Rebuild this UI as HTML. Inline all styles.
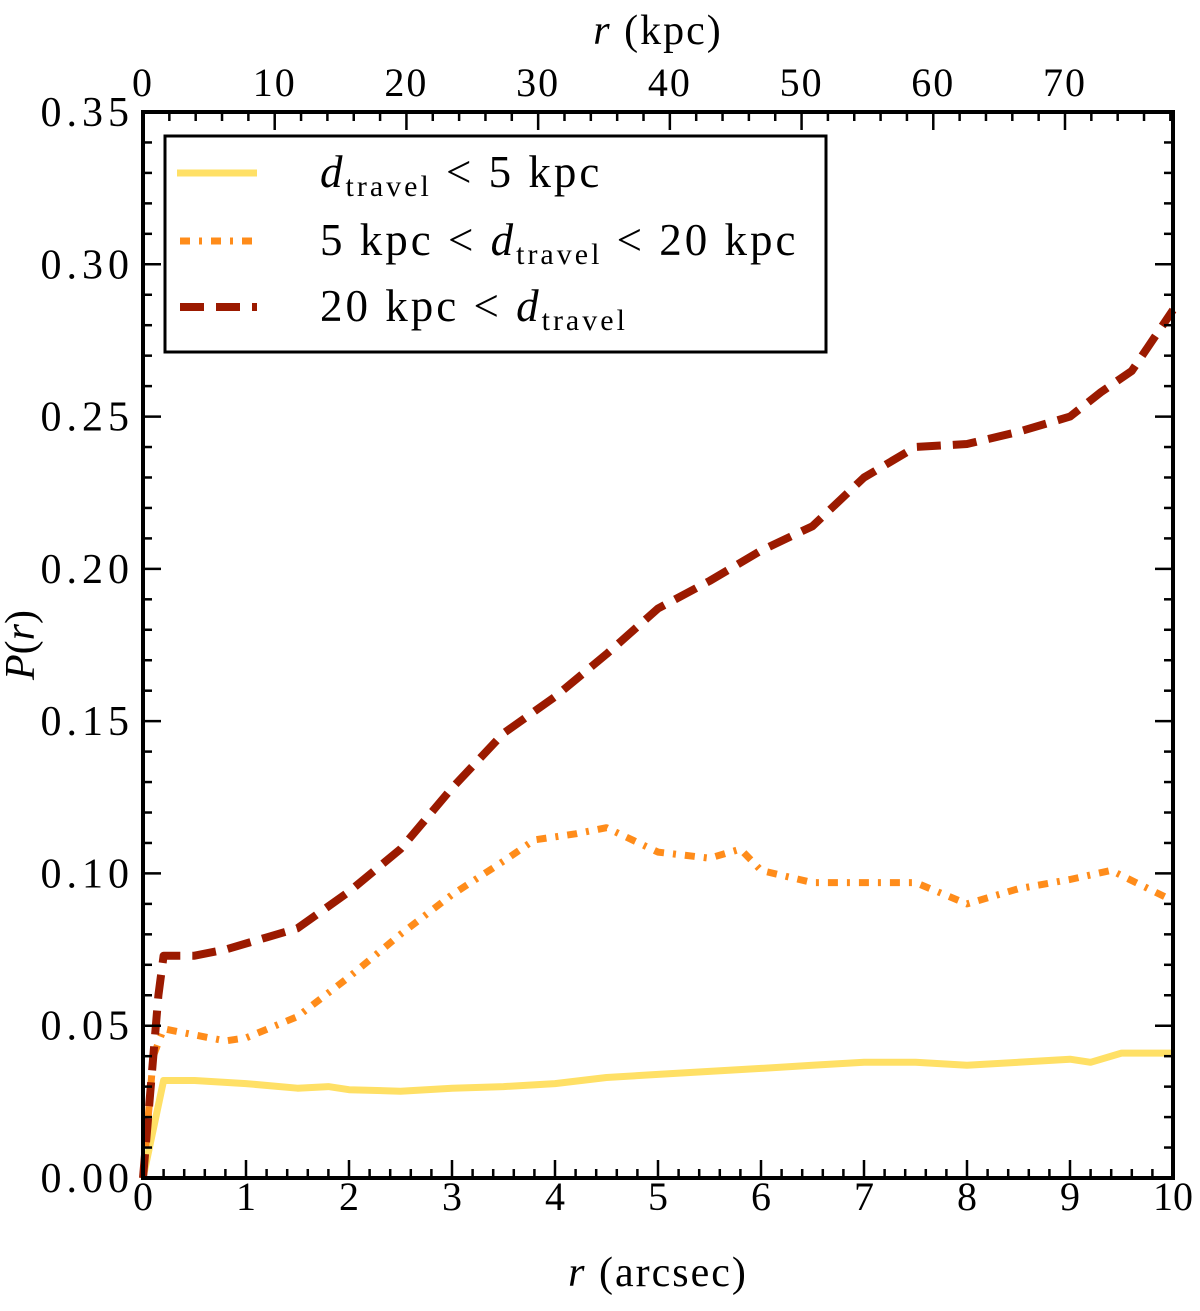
<!DOCTYPE html>
<html><head><meta charset="utf-8"><style>
body{margin:0;background:#fff;}
svg text{font-family:"Liberation Serif",serif;fill:#000;}
</style></head><body>
<svg id="chart" width="1200" height="1306" xmlns="http://www.w3.org/2000/svg">
<g id="marks"></g>
<g id="axes"></g>
<g>
<rect x="165" y="136" width="661" height="216" fill="#fff" stroke="#000" stroke-width="3"/>
<line x1="177" y1="173" x2="257" y2="173" stroke="#ffe066" stroke-width="7"/>
<text x="320" y="187" font-size="45" letter-spacing="3"><tspan font-style="italic">d</tspan><tspan font-size="30" dy="9">travel</tspan><tspan dy="-9"> &lt; 5 kpc</tspan></text>
<line x1="180" y1="241" x2="257" y2="241" stroke="#ff8c1a" stroke-width="7" stroke-dasharray="10 9 3 9"/>
<text x="320" y="255" font-size="45" letter-spacing="3">5 kpc &lt; <tspan font-style="italic">d</tspan><tspan font-size="30" dy="9">travel</tspan><tspan dy="-9"> &lt; 20 kpc</tspan></text>
<line x1="180" y1="307" x2="257" y2="307" stroke="#9b1a00" stroke-width="8" stroke-dasharray="24 12"/>
<text x="320" y="321" font-size="45" letter-spacing="3">20 kpc &lt; <tspan font-style="italic">d</tspan><tspan font-size="30" dy="9">travel</tspan></text>
</g>
<text x="658" y="1286" font-size="42" letter-spacing="2" text-anchor="middle"><tspan font-style="italic">r</tspan> (arcsec)</text>
<text x="658" y="44" font-size="42" letter-spacing="2" text-anchor="middle"><tspan font-style="italic">r</tspan> (kpc)</text>
<text transform="translate(34,645) rotate(-90)" font-size="42" text-anchor="middle"><tspan font-style="italic">P</tspan>(<tspan font-style="italic">r</tspan>)</text>
</svg>
<script>
const xTicks=[0,1,2,3,4,5,6,7,8,9,10];
const yTicks=[0,0.05,0.10,0.15,0.20,0.25,0.30,0.35];
const yTickLabels=["0.00","0.05","0.10","0.15","0.20","0.25","0.30","0.35"];
const kpcTicks=[0,10,20,30,40,50,60,70];
const kpcPerArcsec=7.82;
const shortX=[0,0.2,0.5,1,1.5,1.8,2,2.5,3,3.5,4,4.5,5,5.5,6,6.5,7,7.5,8,8.5,9,9.2,9.5,10];
const shortY=[0,0.032,0.032,0.031,0.0295,0.030,0.029,0.0285,0.0295,0.030,0.031,0.033,0.034,0.035,0.036,0.037,0.038,0.038,0.037,0.038,0.039,0.038,0.041,0.041];
const midX=[0,0.05,0.1,0.2,0.5,0.8,1,1.5,2,2.5,3,3.5,3.8,4.2,4.5,5,5.5,5.8,6,6.5,7,7.5,8,8.5,9,9.4,10];
const midY=[0,0.02,0.04,0.049,0.047,0.045,0.046,0.053,0.066,0.080,0.093,0.104,0.111,0.113,0.115,0.107,0.105,0.108,0.101,0.097,0.097,0.097,0.090,0.095,0.098,0.101,0.091];
const longX=[0,0.05,0.1,0.15,0.2,0.5,0.8,1.2,1.5,2,2.5,3,3.5,4,4.5,5,5.5,6,6.5,7,7.5,8,8.5,9,9.3,9.6,10];
const longY=[0,0.02,0.04,0.06,0.073,0.073,0.075,0.079,0.082,0.094,0.108,0.128,0.146,0.158,0.172,0.187,0.196,0.206,0.214,0.230,0.240,0.241,0.245,0.250,0.258,0.265,0.285];
const L=143,R=1173,T=112,B=1178;
const sx=v=>L+(R-L)*v/10, sy=v=>B-(B-T)*v/0.35;
const NS="http://www.w3.org/2000/svg";
const marks=document.getElementById('marks'), axes=document.getElementById('axes');
function mk(tag,attrs,parent){const e=document.createElementNS(NS,tag);for(const k in attrs)e.setAttribute(k,attrs[k]);parent.appendChild(e);return e;}
function series(xs,ys,color,w,dash,name){
  const d=xs.map((x,i)=>(i?'L':'M')+sx(x).toFixed(1)+','+sy(ys[i]).toFixed(1)).join('');
  const p=mk('path',{d:d,fill:'none',stroke:color,'stroke-width':w,'stroke-dasharray':dash,'stroke-linejoin':'round'},marks);
  
  
}
series(shortX,shortY,'#ffe066',7,'none','line-short-travel');
series(midX,midY,'#ff8c1a',7,'10 9 3 9','line-mid-travel');
series(longX,longY,'#9b1a00',8,'24 12','line-long-travel');
const frame=mk('rect',{x:L,y:T,width:R-L,height:B-T,fill:'none',stroke:'#000','stroke-width':4},axes);


for(let i=0;i<=50;i++){const v=i*0.2,x=sx(v),len=(i%5===0)?18:9;
  mk('line',{x1:x,y1:B,x2:x,y2:B-len,stroke:'#000','stroke-width':2.5},axes);}
xTicks.forEach(v=>{const t=mk('text',{x:sx(v),y:B+32,'font-size':40,'text-anchor':'middle'},axes);t.textContent=v;
  
  });
for(let i=0;i<=35;i++){const v=i*0.01,y=sy(v),len=(i%5===0)?18:9;
  mk('line',{x1:L,y1:y,x2:L+len,y2:y,stroke:'#000','stroke-width':2.5},axes);
  mk('line',{x1:R,y1:y,x2:R-len,y2:y,stroke:'#000','stroke-width':2.5},axes);}
yTicks.forEach((v,i)=>{const t=mk('text',{x:L-9,y:sy(v)+14,'font-size':42,'letter-spacing':5,'text-anchor':'end'},axes);t.textContent=yTickLabels[i];
  
  });
const kx=k=>L+(R-L)*k/(10*kpcPerArcsec);
for(let k=0;k<=78;k+=2){const x=kx(k),len=(k%10===0)?18:9;
  mk('line',{x1:x,y1:T,x2:x,y2:T+len,stroke:'#000','stroke-width':2.5},axes);}
kpcTicks.forEach(k=>{const t=mk('text',{x:kx(k),y:T-16,'font-size':40,'letter-spacing':2,'text-anchor':'middle'},axes);t.textContent=k;
  
  });
</script>
</body></html>
